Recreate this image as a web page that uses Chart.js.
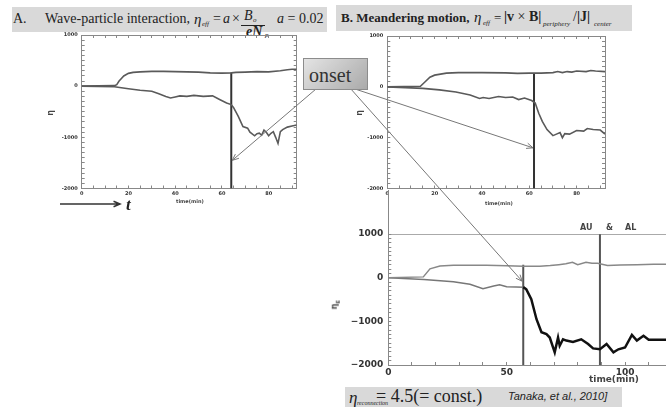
<!DOCTYPE html>
<html>
<head>
<meta charset="utf-8">
<script src="https://cdn.jsdelivr.net/npm/chart.js@4/dist/chart.umd.min.js"></script>
<style>
body { margin: 0; background: #fff; }
#page { position: relative; width: 666px; height: 407px; overflow: hidden; font-family: 'Liberation Serif', serif; color: #222; }
#page canvas { position: absolute; }
.t { position: absolute; white-space: nowrap; line-height: 1; }
.box { position: absolute; background: #d9d9d9; }
.sm { font-family: 'DejaVu Sans', sans-serif; font-weight: bold; color: #444; }
</style>
</head>
<body>
<div id="page">
  <!-- header A -->
  <div class="box" style="left:12px;top:7px;width:315px;height:25px"></div>
  <div class="t" style="left:13px;top:12px;font-size:14px">A.</div>
  <div class="t" style="left:45px;top:12px;font-size:14px">Wave-particle interaction,</div>
  <div class="t" style="left:194px;top:12px;font-size:15px;font-style:italic">η</div>
  <div class="t" style="left:202px;top:21px;font-size:7px;font-style:italic">eff</div>
  <div class="t" style="left:213px;top:12px;font-size:14px">=</div>
  <div class="t" style="left:223px;top:12px;font-size:14px;font-style:italic">a</div>
  <div class="t" style="left:232px;top:12px;font-size:14px">×</div>
  <div class="t" style="left:244px;top:9px;font-size:14px;font-style:italic">B</div>
  <div class="t" style="left:253px;top:17px;font-size:7px;font-style:italic">o</div>
  <div style="position:absolute;left:241px;top:25px;width:24px;height:1px;background:#222"></div>
  <div class="t" style="left:246px;top:25px;font-size:14px;font-style:italic;font-weight:bold">eN</div>
  <div class="t" style="left:265px;top:32px;font-size:7px;font-style:italic">p</div>
  <div class="t" style="left:277px;top:12px;font-size:14px"><i>a</i> = 0.02</div>

  <!-- header B -->
  <div class="box" style="left:336px;top:5px;width:296px;height:26px"></div>
  <div class="t" style="left:341px;top:11px;font-size:13px;font-weight:bold">B. Meandering motion,</div>
  <div class="t" style="left:474px;top:10px;font-size:15px;font-style:italic">η</div>
  <div class="t" style="left:483px;top:20px;font-size:7px;font-style:italic">eff</div>
  <div class="t" style="left:494px;top:11px;font-size:13px">=</div>
  <div class="t" style="left:504px;top:10px;font-size:14px;font-weight:bold">|v <span style="font-weight:normal">×</span> B|</div>
  <div class="t" style="left:543px;top:21px;font-size:7px;font-style:italic">periphery</div>
  <div class="t" style="left:573px;top:10px;font-size:14px">/<b>|J|</b></div>
  <div class="t" style="left:594px;top:21px;font-size:7px;font-style:italic">center</div>

  <!-- footer -->
  <div class="box" style="left:345px;top:387px;width:277px;height:20px"></div>
  <div class="t" style="left:349px;top:389px;font-size:17px;font-style:italic">η</div>
  <div class="t" style="left:357px;top:400px;font-size:6px;font-style:italic">reconnection</div>
  <div class="t" style="left:376px;top:387px;font-size:18px">= 4.5(= const.)</div>
  <div class="t" style="left:508px;top:391px;font-size:11px;font-style:italic;font-family:'Liberation Sans',sans-serif">Tanaka, et al., 2010]</div>

  <canvas id="chartA" width="280" height="190" style="left:30px;top:26px"></canvas>
  <canvas id="chartB" width="280" height="190" style="left:338px;top:26px"></canvas>
  <canvas id="chartC" width="341" height="199" style="left:325px;top:186px"></canvas>

  <!-- axis texts -->
  <div class="t sm" style="left:48px;top:109px;font-size:8px;transform:rotate(-90deg)">η</div>
  <div class="t sm" style="left:176px;top:199px;font-size:5px">time(min)</div>
  <div class="t sm" style="left:357px;top:109px;font-size:8px;transform:rotate(-90deg)">η</div>
  <div class="t sm" style="left:485px;top:201px;font-size:5px">time(min)</div>
  <div class="t sm" style="left:331px;top:300px;font-size:8px;transform:rotate(-90deg)">η<sub style="font-size:5px">E</sub></div>
  <div class="t sm" style="left:589px;top:375px;font-size:9px">time(min)</div>
  <div class="t sm" style="left:580px;top:224px;font-size:8px">AU</div>
  <div class="t sm" style="left:606px;top:224px;font-size:8px">&amp;</div>
  <div class="t sm" style="left:625px;top:224px;font-size:8px">AL</div>
  <div class="t" style="left:126px;top:196px;font-size:17px;font-style:italic;font-weight:bold">t</div>

  <canvas id="overlay" width="666" height="407" style="left:0;top:0;pointer-events:none"></canvas>

  <div style="position:absolute;left:303px;top:58px;width:63px;height:30px;border:1px solid #8c8c8c;background:linear-gradient(135deg,#e4e4e4,#aaaaaa)"></div>
  <div class="t" style="left:309px;top:65px;font-size:20px;color:#333">onset</div>
</div>

<script>
// ---- data (time in min, eta) ----

// A. wave-particle interaction
var timeUpA = [0, 14, 15, 16, 17, 18, 20, 22, 25, 30, 35, 40, 45, 50, 55, 60, 64, 66, 70, 75, 80, 85, 88, 90, 92];
var etaUpA  = [0, 10, 30, 100, 150, 200, 250, 270, 280, 290, 290, 285, 280, 275, 260, 255, 260, 270, 275, 285, 280, 300, 320, 330, 330];
var timeLoA = [0, 14, 20, 25, 30, 33, 36, 38, 40, 42, 45, 48, 52, 56, 59, 62, 64, 65, 67, 69, 71, 72, 74, 75, 76, 77, 78, 79, 80, 81, 82, 83, 84, 85, 86, 88, 90, 92];
var etaLoA  = [0, -10, -50, -80, -100, -150, -200, -230, -210, -190, -200, -180, -200, -190, -260, -330, -360, -420, -590, -790, -820, -900, -970, -930, -920, -960, -860, -900, -970, -920, -890, -1000, -1120, -890, -850, -800, -780, -760];
var onsetA = 64, onsetTopA = 265, arrowTipA = -1450;

// B. meandering motion
var timeUpB = [0, 14, 16, 18, 20, 25, 30, 40, 50, 55, 60, 65, 70, 72, 74, 76, 78, 80, 84, 86, 88, 92];
var etaUpB  = [0, 10, 100, 190, 230, 270, 280, 280, 275, 265, 270, 270, 280, 300, 280, 300, 290, 310, 300, 320, 310, 300];
var timeLoB = [0, 15, 22, 29, 35, 39, 40.5, 43, 47, 50, 53, 55.5, 58, 61, 62.5, 64, 65.5, 67.5, 70, 71, 73, 74, 75, 77, 80, 83, 84.5, 87, 90, 92];
var etaLoB  = [0, -30, -60, -100, -160, -230, -210, -230, -190, -210, -200, -250, -220, -270, -320, -520, -680, -840, -960, -940, -900, -1000, -920, -930, -860, -870, -820, -840, -850, -930];
var onsetB = 62, onsetTopB = 265, arrowTipB = -1200;

// reconnection (eta = 4.5 const.), AU & AL
var timeUpC = [0, 14.8, 17.6, 21.8, 27.5, 41.5, 50, 57, 64, 68.4, 72, 75, 77.8, 80, 83.5, 86, 88.4, 92.6, 98, 105, 112, 118];
var etaUpC  = [0, 20, 205, 270, 285, 285, 275, 265, 265, 280, 300, 320, 355, 300, 355, 330, 330, 280, 290, 300, 310, 310];
var timeLoC = [0, 15, 27.5, 34.5, 40, 44.5, 47, 50, 54, 57, 58.3, 60.4, 62.6, 64.7, 66.8, 68.2, 70.3, 71.7, 72.4, 73.8, 75.2, 78, 81.5, 84.4, 86.5, 89.4, 92.2, 95.1, 97.2, 100, 102.9, 105, 107.8, 110, 113, 118];
var etaLoC  = [0, -40, -90, -150, -250, -190, -160, -205, -210, -215, -265, -490, -950, -1250, -1290, -1370, -1710, -1370, -1560, -1410, -1440, -1470, -1410, -1520, -1620, -1640, -1520, -1710, -1640, -1600, -1310, -1440, -1330, -1420, -1420, -1420];
var onsetC = 57, onsetTopC = 300, markC = 89.4, markTopC = 1000, arrowTipC = -80;

// tick labels
var xTicksAB = [0, 20, 40, 60, 80];
var xTicksC = [0, 50, 100];
var yTicks = [-2000, -1000, 0, 1000];
var yTextAB = ['-2000', '-1000', '0', '1000'];
var yTextC = ['\u22122000', '\u22121000', '0', '1000'];

function seq(a, b, step) {
    var out = [];
    for (var i = 0; a + i * step <= b + 1e-9; i++) out.push(Math.round((a + i * step) * 1000) / 1000);
    return out;
}
function tickObjs(values) {
    return values.map(function (v) { return { value: v }; });
}
function pts(xs, ys) {
    return xs.map(function (x, i) { return { x: x, y: ys[i] }; });
}
function vline(x, top) {
    return [{ x: x, y: -2000 }, { x: x, y: top }];
}
function noPad(s) { s.paddingTop = 0; s.paddingBottom = 0; s.paddingLeft = 0; s.paddingRight = 0; }

function curve(data, color, width) {
    return { data: data, borderColor: color, borderWidth: width, pointRadius: 0, tension: 0, fill: false };
}

function makePanel(id, o) {
    var tickFont = { family: 'DejaVu Sans', size: o.fontSize, weight: 'bold' };
    var minorX = seq(o.xMin, o.xTickMax, o.xStep);
    var minorY = seq(-2000, 1000, 100);
    var axisLine = { color: '#888', width: 1 };
    var scales = {
        x: {
            type: 'linear', position: 'bottom', min: o.xMin, max: o.xMax,
            afterBuildTicks: function (s) { s.ticks = tickObjs(minorX); },
            afterFit: function (s) { s.height = o.xHeight; noPad(s); },
            grid: { drawOnChartArea: false, tickLength: -3, tickColor: '#888' },
            border: axisLine,
            ticks: {
                autoSkip: false, maxRotation: 0, padding: o.xPad, color: '#333', font: tickFont,
                callback: function (v) { return o.xLabels.indexOf(v) >= 0 ? String(v) : ''; }
            }
        },
        y: {
            type: 'linear', position: 'left', min: -2000, max: o.yMax,
            afterBuildTicks: function (s) { s.ticks = tickObjs(minorY); },
            afterFit: function (s) { s.width = o.yWidth; noPad(s); },
            grid: {
                drawOnChartArea: !!o.gridAt1000, tickLength: -3, tickColor: '#888',
                color: function (c) { return c.tick && c.tick.value === 1000 ? '#aaa' : 'rgba(0,0,0,0)'; }
            },
            border: axisLine,
            ticks: {
                autoSkip: false, padding: o.yPad, color: '#333', font: tickFont,
                callback: function (v) { var i = yTicks.indexOf(v); return i >= 0 ? o.yText[i] : ''; }
            }
        }
    };
    if (o.frame) {
        scales.x2 = {
            type: 'linear', position: 'top', min: o.xMin, max: o.xMax,
            afterBuildTicks: function (s) { s.ticks = tickObjs(minorX); },
            afterFit: function (s) { s.height = 0; noPad(s); },
            grid: { drawOnChartArea: false, tickLength: -3, tickColor: '#888' },
            border: axisLine, ticks: { display: false }
        };
        scales.y2 = {
            type: 'linear', position: 'right', min: -2000, max: o.yMax,
            afterBuildTicks: function (s) { s.ticks = tickObjs(minorY); },
            afterFit: function (s) { s.width = 0; noPad(s); },
            grid: { drawOnChartArea: false, tickLength: -3, tickColor: '#888' },
            border: axisLine, ticks: { display: false }
        };
    }
    return new Chart(document.getElementById(id), {
        type: 'line',
        data: { datasets: o.datasets },
        options: {
            responsive: false, animation: false, devicePixelRatio: 1,
            layout: { padding: { top: o.padTop, right: o.padRight, left: 0, bottom: 0 } },
            plugins: { legend: { display: false }, tooltip: { enabled: false } },
            scales: scales
        }
    });
}

var chartA = makePanel('chartA', {
    xMin: 0, xMax: 92, xTickMax: 90, xStep: 5, xLabels: xTicksAB, yMax: 1000, yText: yTextAB,
    yWidth: 51.7, xHeight: 27.5, padTop: 9, padRight: 13.3, fontSize: 5, xPad: 5, yPad: 7, frame: true,
    datasets: [
        curve(pts(timeUpA, etaUpA), '#5a5a5a', 1.6),
        curve(pts(timeLoA, etaLoA), '#5a5a5a', 1.6),
        curve(vline(onsetA, onsetTopA), '#333', 2)
    ]
});

var chartB = makePanel('chartB', {
    xMin: 0, xMax: 92, xTickMax: 90, xStep: 5, xLabels: xTicksAB, yMax: 1000, yText: yTextAB,
    yWidth: 49.3, xHeight: 27.5, padTop: 10, padRight: 13, fontSize: 5, xPad: 5, yPad: 7, frame: true,
    datasets: [
        curve(pts(timeUpB, etaUpB), '#5a5a5a', 1.6),
        curve(pts(timeLoB, etaLoB), '#5a5a5a', 1.6),
        curve(vline(onsetB, onsetTopB), '#333', 2)
    ]
});

var lowerC = curve(pts(timeLoC, etaLoC), '#777', 1.5);
lowerC.segment = {
    borderColor: function (c) { return c.p0.parsed.x >= onsetC ? '#111' : '#777'; },
    borderWidth: function (c) { return c.p0.parsed.x >= onsetC ? 2.5 : 1.5; }
};
var chartC = makePanel('chartC', {
    xMin: 0, xMax: 117.3, xTickMax: 110, xStep: 10, xLabels: xTicksC, yMax: 2000, yText: yTextC,
    yWidth: 63.3, xHeight: 20, padTop: 4.5, padRight: 0, fontSize: 9, xPad: 5, yPad: 8, frame: false, gridAt1000: true,
    datasets: [
        curve(pts(timeUpC, etaUpC), '#888', 1.5),
        lowerC,
        curve(vline(onsetC, onsetTopC), '#555', 2),
        curve(vline(markC, markTopC), '#555', 2)
    ]
});

// ---- callout arrows from the "onset" box to the onset lines ----
function pagePoint(chart, left, top, x, y) {
    return [left + chart.scales.x.getPixelForValue(x), top + chart.scales.y.getPixelForValue(y)];
}
var ov = document.getElementById('overlay').getContext('2d');
function arrow(x1, y1, x2, y2, color, width, head) {
    var a = Math.atan2(y2 - y1, x2 - x1);
    ov.strokeStyle = color;
    ov.lineWidth = width;
    ov.beginPath();
    ov.moveTo(x1, y1);
    ov.lineTo(x2, y2);
    ov.moveTo(x2 - head * Math.cos(a - 0.4), y2 - head * Math.sin(a - 0.4));
    ov.lineTo(x2, y2);
    ov.lineTo(x2 - head * Math.cos(a + 0.4), y2 - head * Math.sin(a + 0.4));
    ov.stroke();
}
var tipA = pagePoint(chartA, 30, 26, onsetA, arrowTipA);
var tipB = pagePoint(chartB, 338, 26, onsetB, arrowTipB);
var tipC = pagePoint(chartC, 325, 186, onsetC, arrowTipC);
arrow(316, 89, tipA[0] + 1, tipA[1], '#777', 1, 7);
arrow(349, 87, tipB[0] - 1, tipB[1], '#777', 1, 7);
arrow(350, 88, tipC[0] - 1, tipC[1], '#777', 1, 7);
// time direction arrow under panel A
arrow(60, 204, 120, 204, '#333', 1.5, 7);
</script>
</body>
</html>
